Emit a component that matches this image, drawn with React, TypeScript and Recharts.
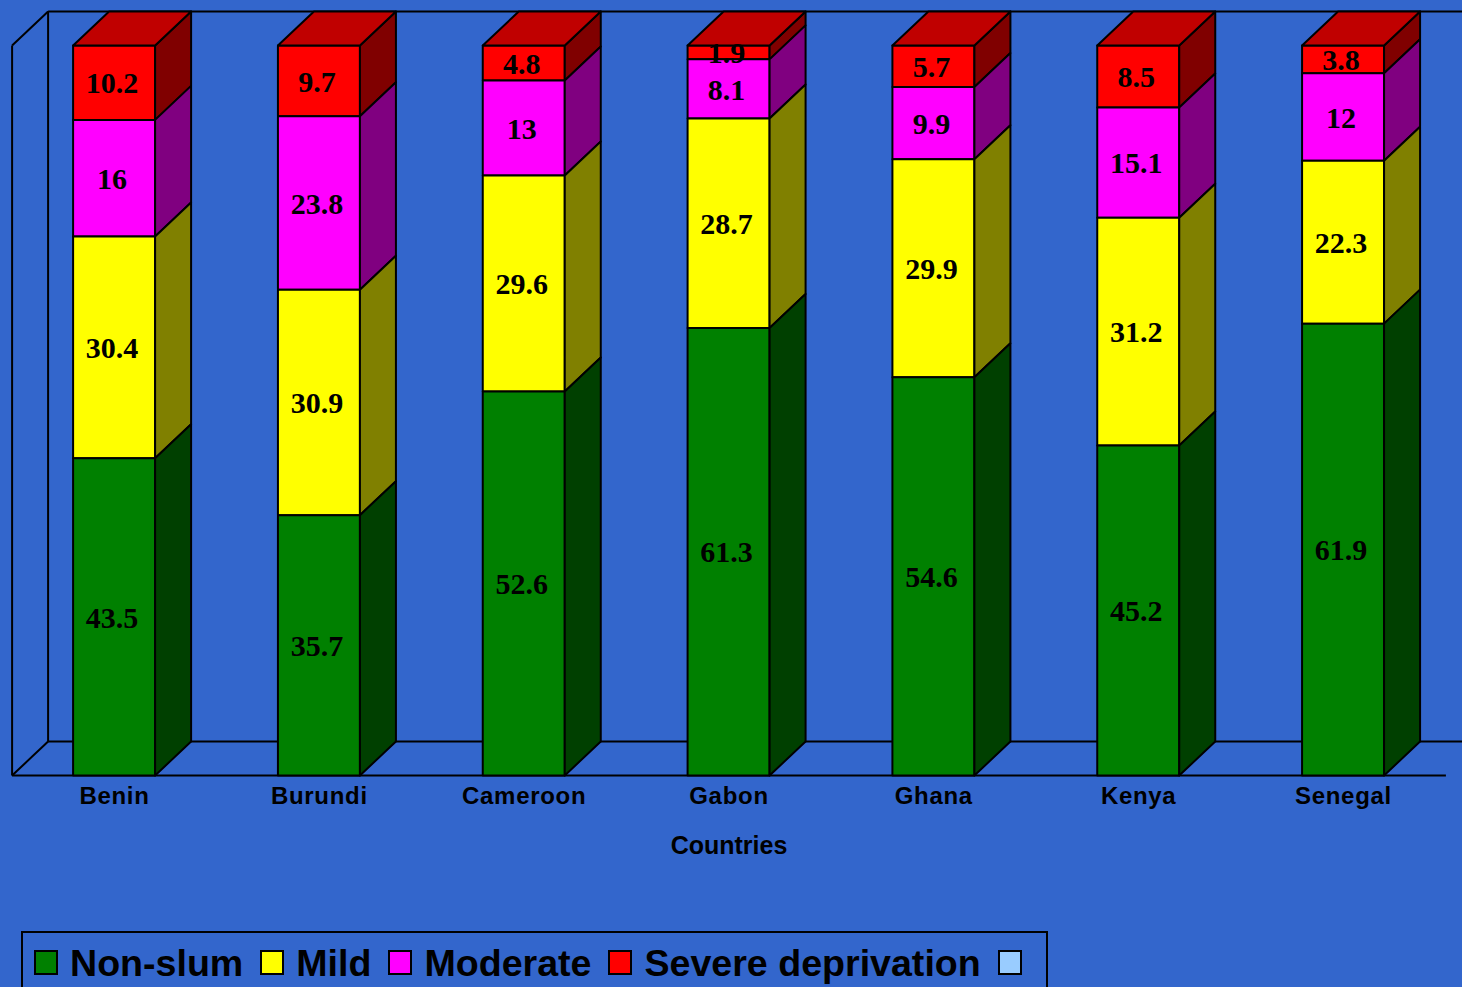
import { BarChart, Bar, XAxis, YAxis, LabelList, Legend, usePlotArea } from 'recharts'

const countries = ['Benin', 'Burundi', 'Cameroon', 'Gabon', 'Ghana', 'Kenya', 'Senegal']

const nonSlum = [43.5, 35.7, 52.6, 61.3, 54.6, 45.2, 61.9]
const mild = [30.4, 30.9, 29.6, 28.7, 29.9, 31.2, 22.3]
const moderate = [16, 23.8, 13, 8.1, 9.9, 15.1, 12]
const severe = [10.2, 9.7, 4.8, 1.9, 5.7, 8.5, 3.8]

const legendNames = ['Non-slum', 'Mild', 'Moderate', 'Severe deprivation', '']
const legendColors = ['#008000', '#ffff00', '#ff00ff', '#ff0000', '#99ccff']

const data = countries.map((name, i) => ({
  name,
  nonSlum: nonSlum[i],
  mild: mild[i],
  moderate: moderate[i],
  severe: severe[i],
}))

const DEPTH_X = 36
const DEPTH_Y = 34
const SANS = '"Liberation Sans", Arial, sans-serif'
const SERIF = '"Liberation Serif", "Times New Roman", serif'

// the fake 3D block: front from recharts, side and top faces offset from it
const Block = (props: any) => {
  const { x, y, width, height, fill, side, top } = props
  const edge = { stroke: '#000', strokeWidth: 2, strokeLinejoin: 'round' as const }
  return (
    <g>
      <rect x={x} y={y} width={width} height={height} fill={fill} {...edge} />
      <polygon
        points={`${x + width},${y} ${x + width + DEPTH_X},${y - DEPTH_Y} ${x + width + DEPTH_X},${y + height - DEPTH_Y} ${x + width},${y + height}`}
        fill={side}
        {...edge}
      />
      {top && (
        <polygon
          points={`${x},${y} ${x + DEPTH_X},${y - DEPTH_Y} ${x + width + DEPTH_X},${y - DEPTH_Y} ${x + width},${y}`}
          fill={top}
          {...edge}
        />
      )}
    </g>
  )
}

const Walls = () => {
  const plot = usePlotArea()
  if (!plot) return null
  const { x, y, width, height } = plot
  const bx = x + DEPTH_X
  const by = y - DEPTH_Y
  const lines = [
    [x, y, x, y + height],
    [x, y, bx, by],
    [x, y + height, bx, by + height],
    [bx, by, bx, by + height],
    [bx, by, 1462, by],
    [bx, by + height, 1462, by + height],
  ]
  return (
    <g>
      {lines.map((l, i) => (
        <line key={i} x1={l[0]} y1={l[1]} x2={l[2]} y2={l[3]} stroke="#000" strokeWidth={2} />
      ))}
      <line x1={x} y1={y + height} x2={x + width} y2={y + height} stroke="#000" strokeWidth={2} />
    </g>
  )
}

const LegendBox = () => (
  <div
    style={{
      boxSizing: 'border-box',
      width: 1027,
      height: 70,
      border: '2px solid #000',
      display: 'flex',
      alignItems: 'flex-start',
      paddingLeft: 11,
      fontFamily: SANS,
      fontWeight: 'bold',
      fontSize: 37.6,
      lineHeight: '60px',
      color: '#000',
    }}
  >
    {legendNames.map((name, i) => (
      <div key={i} style={{ display: 'flex', alignItems: 'flex-start', marginRight: 17 }}>
        <span
          style={{
            boxSizing: 'border-box',
            width: 24,
            height: 25,
            marginTop: 17,
            marginRight: name ? 12 : 0,
            background: legendColors[i],
            border: '2px solid #000',
          }}
        />
        <span>{name}</span>
      </div>
    ))}
  </div>
)

const labelStyle = { fontFamily: SERIF, fontWeight: 'bold', fontSize: 30, fill: '#000' }

export default function App() {
  return (
    <div style={{ position: 'fixed', left: 0, top: 0, width: 1462, height: 987, overflow: 'hidden', background: '#3366cc' }}>
      <BarChart
        width={1462}
        height={987}
        data={data}
        stackOffset="expand"
        reverseStackOrder
        barSize={82}
        margin={{ top: 45.5, right: 16.1, bottom: 141.5, left: 12.1 }}
      >
        <Walls />
        <YAxis hide domain={[0, 1]} />
        <XAxis
          dataKey="name"
          height={70}
          axisLine={false}
          tickLine={false}
          tickMargin={5}
          interval={0}
          tick={{ fill: '#000', fontFamily: SANS, fontWeight: 'bold', fontSize: 24, letterSpacing: 0.7 }}
          label={{
            value: 'Countries',
            position: 'insideBottom',
            offset: -8,
            style: { fill: '#000', fontFamily: SANS, fontWeight: 'bold', fontSize: 25 },
          }}
        />
        <Legend
          verticalAlign="middle"
          content={<LegendBox />}
          wrapperStyle={{ left: 21, top: 931, width: 1027, height: 70, margin: 0 }}
        />
        <Bar dataKey="severe" stackId="a" fill="#ff0000" isAnimationActive={false}
          shape={(p: any) => <Block {...p} side="#800000" top="#c00000" />}>
          <LabelList dataKey="severe" position="center" dx={-2} style={labelStyle} />
        </Bar>
        <Bar dataKey="moderate" stackId="a" fill="#ff00ff" isAnimationActive={false}
          shape={(p: any) => <Block {...p} side="#800080" />}>
          <LabelList dataKey="moderate" position="center" dx={-2} style={labelStyle} />
        </Bar>
        <Bar dataKey="mild" stackId="a" fill="#ffff00" isAnimationActive={false}
          shape={(p: any) => <Block {...p} side="#808000" />}>
          <LabelList dataKey="mild" position="center" dx={-2} style={labelStyle} />
        </Bar>
        <Bar dataKey="nonSlum" stackId="a" fill="#008000" isAnimationActive={false}
          shape={(p: any) => <Block {...p} side="#004000" />}>
          <LabelList dataKey="nonSlum" position="center" dx={-2} style={labelStyle} />
        </Bar>
      </BarChart>
    </div>
  )
}
